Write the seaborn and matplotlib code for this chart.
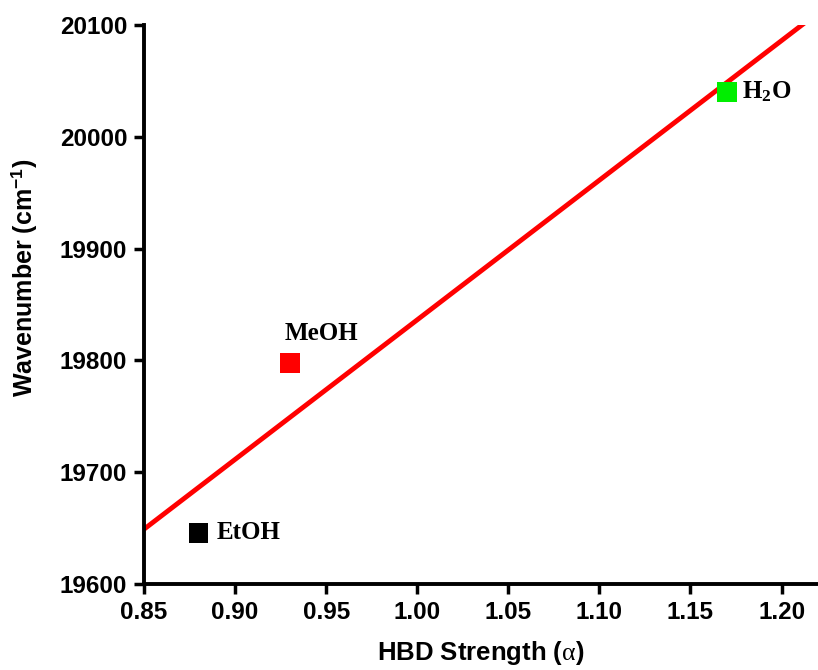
import numpy as np
import pandas as pd
import matplotlib
matplotlib.use("Agg")
import matplotlib.pyplot as plt
import seaborn as sns

# Solvent data: hydrogen-bond-donor strength vs. absorption wavenumber
solvents = ["EtOH", "MeOH", "H2O"]
labels = ["EtOH", "MeOH", r"H$_{\mathsf{2}}$O"]
alpha_hbd = [0.88, 0.93, 1.17]
wavenumber = [19646, 19798, 20040]
colors = ["#000000", "#ff0000", "#00ee00"]

x_ticks = [0.85, 0.90, 0.95, 1.00, 1.05, 1.10, 1.15, 1.20]
y_ticks = [19600, 19700, 19800, 19900, 20000, 20100]

sns.set_theme(style="ticks")
plt.rcParams["font.family"] = ["Liberation Sans", "DejaVu Sans"]
plt.rcParams["text.color"] = "black"
plt.rcParams["axes.labelcolor"] = "black"
plt.rcParams["mathtext.fontset"] = "custom"
plt.rcParams["mathtext.rm"] = "Liberation Sans:bold"
plt.rcParams["mathtext.bf"] = "Liberation Sans:bold"
plt.rcParams["mathtext.it"] = "Liberation Serif"
plt.rcParams["mathtext.sf"] = "Liberation Serif:bold"

df = pd.DataFrame({"solvent": solvents, "alpha": alpha_hbd, "nu": wavenumber})

fig = plt.figure(figsize=(8.18, 6.70), dpi=100)
ax = fig.add_axes([0.176, 0.128, 0.824, 0.835])

ax.set_xlim(0.85, 1.22)
ax.set_ylim(19600, 20100)

# Linear least-squares fit across the full x range
slope, intercept = np.polyfit(df["alpha"], df["nu"], 1)
xfit = np.array(ax.get_xlim())
fit = pd.DataFrame({"x": xfit, "y": slope * xfit + intercept})
sns.lineplot(data=fit, x="x", y="y", color="#ff0000", linewidth=3.5, ax=ax, zorder=2)

sns.scatterplot(data=df, x="alpha", y="nu", hue="solvent", palette=dict(zip(solvents, colors)),
                marker="s", s=200, edgecolor="none", legend=False, ax=ax, zorder=3)

offsets = [(13, 0, "left", "center"), (23, 21, "center", "center"), (11, 0, "left", "center")]
for lab, xv, yv, (dx, dy, ha, va) in zip(labels, alpha_hbd, wavenumber, offsets):
    ax.annotate(lab, (xv, yv), xytext=(dx, dy), textcoords="offset points",
                ha=ha, va=va, fontsize=18, fontweight="bold",
                family="Liberation Serif", color="black")

ax.set_xticks(x_ticks)
ax.set_yticks(y_ticks)
ax.set_xticklabels([f"{v:.2f}" for v in x_ticks])
ax.set_yticklabels([str(v) for v in y_ticks])
ax.tick_params(axis="both", direction="out", length=7, width=2.5, labelsize=17.5,
               color="black", labelcolor="black", pad=5)
for lab in ax.get_xticklabels() + ax.get_yticklabels():
    lab.set_fontweight("bold")

ax.set_xlabel(r"HBD Strength ($\alpha$)", fontsize=18.5, fontweight="bold", labelpad=11, color="black")
ax.set_ylabel(r"Wavenumber (cm$^{-1}$)", fontsize=18, fontweight="bold", color="black")
ax.yaxis.set_label_coords(-0.155, 0.548)

sns.despine(ax=ax)
for sp in ["left", "bottom"]:
    ax.spines[sp].set_linewidth(2.8)
    ax.spines[sp].set_color("black")

fig.savefig("out.png", dpi=100)
